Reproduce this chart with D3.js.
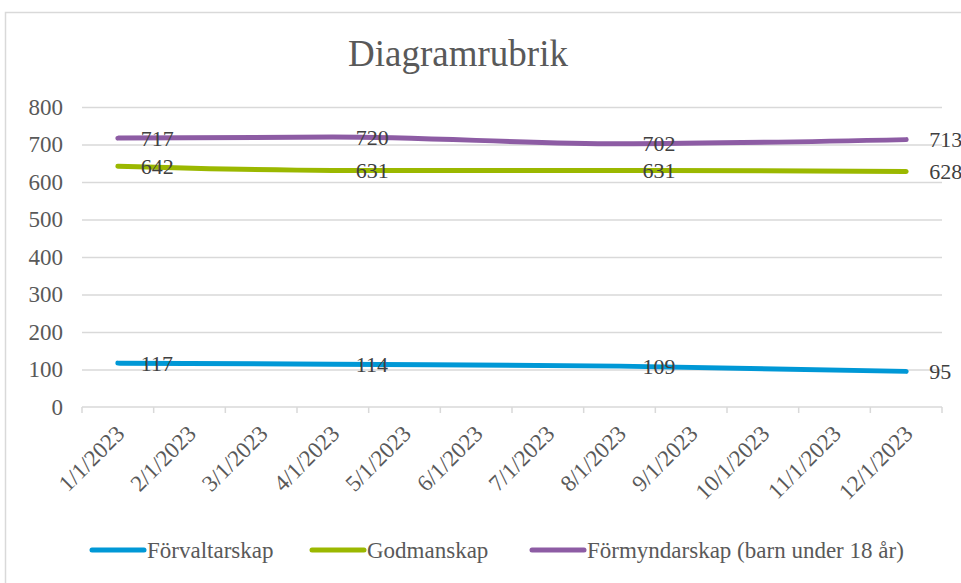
<!DOCTYPE html>
<html>
<head>
	<meta charset="utf-8">
	<title>Diagramrubrik</title>
	<script src="https://cdn.jsdelivr.net/npm/d3@7"></script>
	<style>
	body { margin: 0; background: #fff; }
	svg { display: block; }
	.axis path { display: none; }
	</style>
</head>
<body>
	<svg></svg>
<script>

	var months = ["1/1/2023", "2/1/2023", "3/1/2023", "4/1/2023", "5/1/2023", "6/1/2023",
		"7/1/2023", "8/1/2023", "9/1/2023", "10/1/2023", "11/1/2023", "12/1/2023"];
	var dates = ["1/1/2023", "4/1/2023", "8/1/2023", "12/1/2023"];
	var forvaltarskap = [117, 114, 109, 95];
	var godmanskap = [642, 631, 631, 628];
	var formyndarskap = [717, 720, 702, 713];
	var seriesNames = ["Förvaltarskap", "Godmanskap", "Förmyndarskap (barn under 18 år)"];
	var colors = ["#0098D6", "#9BB800", "#8D5CA4"];
	var yTicks = [0, 100, 200, 300, 400, 500, 600, 700, 800];

	var FONT = "'Liberation Serif', 'Times New Roman', Times, serif";

	var series = [forvaltarskap, godmanskap, formyndarskap].map(function(vals, i) {
		return {name: seriesNames[i], color: colors[i],
			values: vals.map(function(v, j) { return {date: dates[j], value: v}; })};
	});

	var W = 961, H = 583;
	var margin = {top: 107, right: 19, bottom: 176, left: 82};
	var width = W - margin.left - margin.right,
		height = H - margin.top - margin.bottom;

	var svg = d3.select("svg").attr("width", W).attr("height", H)
		.attr("font-family", FONT);

	// chart area border
	svg.append("rect")
		.attr("x", 5.5).attr("y", 12.5)
		.attr("width", 1000).attr("height", 700)
		.attr("fill", "none").attr("stroke", "#d9d9d9").attr("stroke-width", 1.5);

	svg.append("text")
		.attr("x", 458).attr("y", 66)
		.attr("text-anchor", "middle")
		.attr("fill", "#595959")
		.style("font-family", FONT)
		.style("font-size", "37px")
		.text("Diagramrubrik");

	var chart = svg.append("g")
		.attr("transform", "translate(" + margin.left + "," + margin.top + ")");

	var xScale = d3.scaleBand().domain(months).range([0, width]);
	var yScale = d3.scaleLinear().domain([0, 800]).range([height, 0]);
	function xc(d) { return xScale(d) + xScale.bandwidth() / 2; }

	// gridlines + y labels
	var yAxis = chart.append("g")
		.attr("class", "axis")
		.call(d3.axisLeft(yScale).tickValues(yTicks).tickSize(-width).tickPadding(19));
	yAxis.attr("font-family", FONT).attr("font-size", 23);
	yAxis.selectAll("text").attr("fill", "#595959").style("font-family", FONT);
	yAxis.selectAll("line").attr("stroke", "#d9d9d9").attr("stroke-width", 1.5);
	yAxis.selectAll(".tick").filter(function(d) { return d === 0; }).select("line").remove();

	// x axis
	chart.append("line")
		.attr("x1", 0).attr("x2", width)
		.attr("y1", height).attr("y2", height)
		.attr("stroke", "#d9d9d9").attr("stroke-width", 1.5);
	chart.selectAll("line.xtick")
		.data(d3.range(months.length + 1)).enter()
		.append("line")
		.attr("class", "xtick")
		.attr("x1", function(i) { return i * xScale.bandwidth(); })
		.attr("x2", function(i) { return i * xScale.bandwidth(); })
		.attr("y1", height).attr("y2", height + 6)
		.attr("stroke", "#d9d9d9").attr("stroke-width", 1.5);

	chart.selectAll("text.xlab")
		.data(months).enter()
		.append("text")
		.attr("class", "xlab")
		.attr("text-anchor", "end")
		.attr("fill", "#595959")
		.style("font-family", FONT)
		.style("font-size", "23px")
		.attr("transform", function(d) { return "translate(" + (xc(d) + 8) + "," + (height + 28) + ") rotate(-45)"; })
		.text(function(d) { return d; });

	var line = d3.line()
		.x(function(d) { return xc(d.date); })
		.y(function(d) { return yScale(d.value); })
		.curve(d3.curveMonotoneX);

	chart.selectAll("path.series")
		.data(series).enter()
		.append("path")
		.attr("class", "series")
		.attr("d", function(d) { return line(d.values); })
		.attr("fill", "none")
		.attr("stroke", function(d) { return d.color; })
		.attr("stroke-width", 5)
		.attr("stroke-linecap", "round");

	// data labels, to the right of each point
	series.forEach(function(s) {
		chart.selectAll(null)
			.data(s.values).enter()
			.append("text")
			.attr("x", function(d) { return xc(d.date) + 23; })
			.attr("y", function(d) { return yScale(d.value); })
			.attr("dy", "0.35em")
			.attr("fill", "#404040")
			.style("font-family", FONT)
			.style("font-size", "22px")
			.text(function(d) { return d.value; });
	});

	// legend
	var legendX = [90, 310, 530];
	var legend = svg.selectAll("g.legend")
		.data(series).enter()
		.append("g")
		.attr("class", "legend")
		.attr("transform", function(d, i) { return "translate(" + legendX[i] + ",550)"; });
	legend.append("line")
		.attr("x1", 2).attr("x2", 54)
		.attr("stroke", function(d) { return d.color; })
		.attr("stroke-width", 5)
		.attr("stroke-linecap", "round");
	legend.append("text")
		.attr("x", 57).attr("dy", "0.35em")
		.attr("fill", "#595959")
		.style("font-family", FONT)
		.style("font-size", "23px")
		.text(function(d) { return d.name; });

</script>
</body>
</html>
